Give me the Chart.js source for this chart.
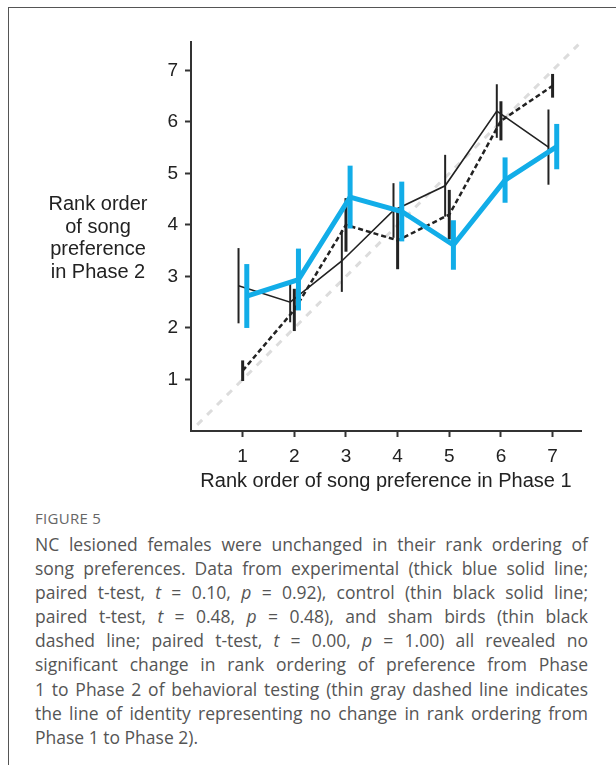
<!DOCTYPE html>
<html>
<head>
<meta charset="utf-8">
<script src="https://cdn.jsdelivr.net/npm/chart.js@4.4.0/dist/chart.umd.min.js"></script>
<style>
  html, body { margin: 0; padding: 0; background: #fff; }
  body { width: 616px; height: 765px; position: relative; overflow: hidden; }
  #frame { position: absolute; left: 8px; top: 7px; right: -4px; bottom: -4px;
           border-left: 1px solid #555; border-top: 1px solid #555; }
  #chartBox { position: absolute; left: 0; top: 0; width: 616px; height: 500px; }
  #yTitle { position: absolute; left: 23px; width: 150px; top: 192px; text-align: center;
            font-family: "Liberation Sans", Arial, sans-serif; font-size: 20px; line-height: 22.6px; color: #222; }
  #figLabel { position: absolute; left: 35px; top: 509px; font-family: "Open Sans", sans-serif;
              font-size: 15px; line-height: 18px; color: #666; letter-spacing: 0.3px; }
  #caption { position: absolute; left: 35px; width: 553px; top: 532px; font-family: "Open Sans", sans-serif;
             font-size: 17.5px; line-height: 24.1px; color: #555; word-spacing: -1.5px; }
  #caption div { text-align: justify; text-align-last: justify; white-space: nowrap; }
  #caption div.last { text-align-last: left; word-spacing: 0; }
</style>
</head>
<body>
<div id="frame"></div>
<div id="chartBox"><canvas id="rankChart" width="616" height="500"></canvas></div>
<div id="yTitle">Rank order<br>of song<br>preference<br>in Phase 2</div>
<div id="figLabel">FIGURE 5</div>
<div id="caption">
  <div>NC lesioned females were unchanged in their rank ordering of</div>
  <div>song preferences. Data from experimental (thick blue solid line;</div>
  <div>paired t-test, <i>t</i> = 0.10, <i>p</i> = 0.92), control (thin black solid line;</div>
  <div>paired t-test, <i>t</i> = 0.48, <i>p</i> = 0.48), and sham birds (thin black</div>
  <div>dashed line; paired t-test, <i>t</i> = 0.00, <i>p</i> = 1.00) all revealed no</div>
  <div>significant change in rank ordering of preference from Phase</div>
  <div>1 to Phase 2 of behavioral testing (thin gray dashed line indicates</div>
  <div>the line of identity representing no change in rank ordering from</div>
  <div class="last">Phase 1 to Phase 2).</div>
</div>
<script>
// rank in phase 1 (x) and tick labels
const phase1 = [1, 2, 3, 4, 5, 6, 7];
const rankTicks = [1, 2, 3, 4, 5, 6, 7];

// mean rank in phase 2 and error (half bar length) per group
const experimental = [2.62, 2.94, 4.54, 4.26, 3.61, 4.87, 5.52];
const experimentalErr = [0.62, 0.6, 0.61, 0.58, 0.48, 0.44, 0.44];
const control = [2.82, 2.5, 3.3, 4.28, 4.76, 6.21, 5.51];
const controlErr = [0.73, 0.39, 0.6, 0.53, 0.6, 0.52, 0.73];
const sham = [1.17, 2.35, 4.0, 3.7, 4.2, 6.02, 6.7];
const shamErr = [0.2, 0.41, 0.52, 0.56, 0.48, 0.38, 0.23];

// line of identity, from / to
const identityLine = [0.12, 7.5];

const font = "'Liberation Sans', Arial, sans-serif";

function points(values, shift) {
  return values.map((v, i) => ({ x: phase1[i] + shift, y: v }));
}

// vertical error bars, drawn just under each dataset's line
const errorBars = {
  id: "errorBars",
  beforeDatasetDraw(chart, args) {
    const ds = chart.data.datasets[args.index];
    if (!ds.errors) return;
    const { x, y } = chart.scales;
    const ctx = chart.ctx;
    ctx.save();
    ctx.strokeStyle = ds.borderColor;
    ctx.lineWidth = ds.errorWidth;
    ctx.setLineDash([]);
    ds.data.forEach((p, i) => {
      const px = x.getPixelForValue(p.x);
      ctx.beginPath();
      ctx.moveTo(px, y.getPixelForValue(p.y - ds.errors[i]));
      ctx.lineTo(px, y.getPixelForValue(p.y + ds.errors[i]));
      ctx.stroke();
    });
    ctx.restore();
  }
};

const axisGrid = { drawOnChartArea: false, drawTicks: true, tickLength: 6, tickWidth: 2, tickColor: "#333" };
const axisBorder = { display: true, color: "#333", width: 2 };

new Chart(document.getElementById("rankChart"), {
  type: "line",
  data: {
    datasets: [
      {
        label: "Experimental",
        data: points(experimental, 0.08),
        errors: experimentalErr,
        errorWidth: 5,
        borderColor: "#12ade8",
        borderWidth: 5,
        borderJoinStyle: "miter"
      },
      {
        label: "Control",
        data: points(control, -0.08),
        errors: controlErr,
        errorWidth: 2,
        borderColor: "#222",
        borderWidth: 1.6
      },
      {
        label: "Sham",
        data: points(sham, 0),
        errors: shamErr,
        errorWidth: 3,
        borderColor: "#222",
        borderWidth: 2.5,
        borderDash: [5, 3]
      },
      {
        label: "Identity",
        data: identityLine.map(v => ({ x: v, y: v })),
        borderColor: "#dcdcdc",
        borderWidth: 3,
        borderDash: [7, 7]
      }
    ]
  },
  options: {
    responsive: false,
    animation: false,
    devicePixelRatio: 1,
    layout: { padding: { left: 0, top: 42, right: 35, bottom: 0 } },
    elements: { point: { radius: 0, hoverRadius: 0 }, line: { tension: 0, fill: false } },
    plugins: { legend: { display: false }, tooltip: { enabled: false } },
    scales: {
      x: {
        type: "linear",
        min: 0,
        max: 7.55,
        afterBuildTicks: s => { s.ticks = rankTicks.map(v => ({ value: v })); },
        afterFit: s => { s.height = 69; },
        grid: axisGrid,
        border: axisBorder,
        ticks: { color: "#222", font: { family: font, size: 19 }, padding: 8, maxRotation: 0 },
        title: {
          display: true,
          text: "Rank order of song preference in Phase 1",
          color: "#222",
          font: { family: font, size: 20 },
          padding: { top: 0, bottom: 7 }
        }
      },
      y: {
        type: "linear",
        min: 0,
        max: 7.55,
        afterBuildTicks: s => { s.ticks = rankTicks.map(v => ({ value: v })); },
        afterFit: s => { s.width = 191; },
        grid: axisGrid,
        border: axisBorder,
        ticks: { color: "#222", font: { family: font, size: 19 }, padding: 7 }
      }
    }
  },
  plugins: [errorBars]
});
</script>
</body>
</html>
